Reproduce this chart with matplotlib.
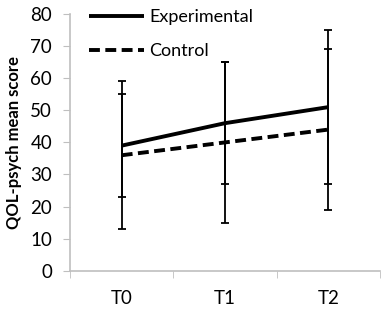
import matplotlib
matplotlib.use("Agg")
import matplotlib.pyplot as plt
import numpy as np

plt.rcParams["font.family"] = ["Lato", "DejaVu Sans"]

timepoints = ["T0", "T1", "T2"]
experimental = [39, 46, 51]
experimental_low = [23, 27, 27]
experimental_high = [59, 65, 75]
control = [36, 40, 44]
control_low = [13, 15, 19]
control_high = [55, 65, 69]

x = np.arange(len(timepoints))
grey = "#bfbfbf"

fig = plt.figure(figsize=(3.83, 3.13), dpi=100)
ax = fig.add_axes([0.183, 0.135, 0.809, 0.82])

exp = np.array(experimental)
ctl = np.array(control)
ax.errorbar(x, exp, yerr=[exp - np.array(experimental_low), np.array(experimental_high) - exp],
            fmt="none", ecolor="black", elinewidth=1.3, capsize=3.2, capthick=1.3)
ax.errorbar(x, ctl, yerr=[ctl - np.array(control_low), np.array(control_high) - ctl],
            fmt="none", ecolor="black", elinewidth=1.3, capsize=3.2, capthick=1.3)
ax.plot(x, exp, color="black", lw=2.8, label="Experimental", solid_capstyle="butt")
ax.plot(x, ctl, color="black", lw=2.8, ls=(0, (2.8, 1.4)), label="Control")

ax.set_xlim(-0.5, 2.5)
ax.set_ylim(0, 80)
ax.set_yticks(range(0, 81, 10))
ax.set_xticks(x)
ax.set_xticklabels(timepoints)
ax.set_xticks([-0.5, 0.5, 1.5, 2.5], minor=True)
ax.tick_params(axis="x", which="major", length=0, pad=14, labelsize=13.5)
ax.tick_params(axis="x", which="minor", length=5, color=grey, direction="out")
ax.tick_params(axis="y", length=5, color=grey, labelsize=13.5, pad=8)

for side in ["top", "right"]:
    ax.spines[side].set_visible(False)
for side in ["left", "bottom"]:
    ax.spines[side].set_color(grey)
    ax.spines[side].set_linewidth(1.2)

ax.set_ylabel("QOL-psych mean score", fontsize=12, fontweight="bold")
ax.yaxis.set_label_coords(-0.155, 0.5)

ax.legend(loc="upper left", bbox_to_anchor=(0.039, 1.047), borderaxespad=0,
          frameon=False, handlelength=3.0, fontsize=13, labelspacing=0.98,
          handletextpad=0.3)

fig.savefig("out.png", dpi=100)
